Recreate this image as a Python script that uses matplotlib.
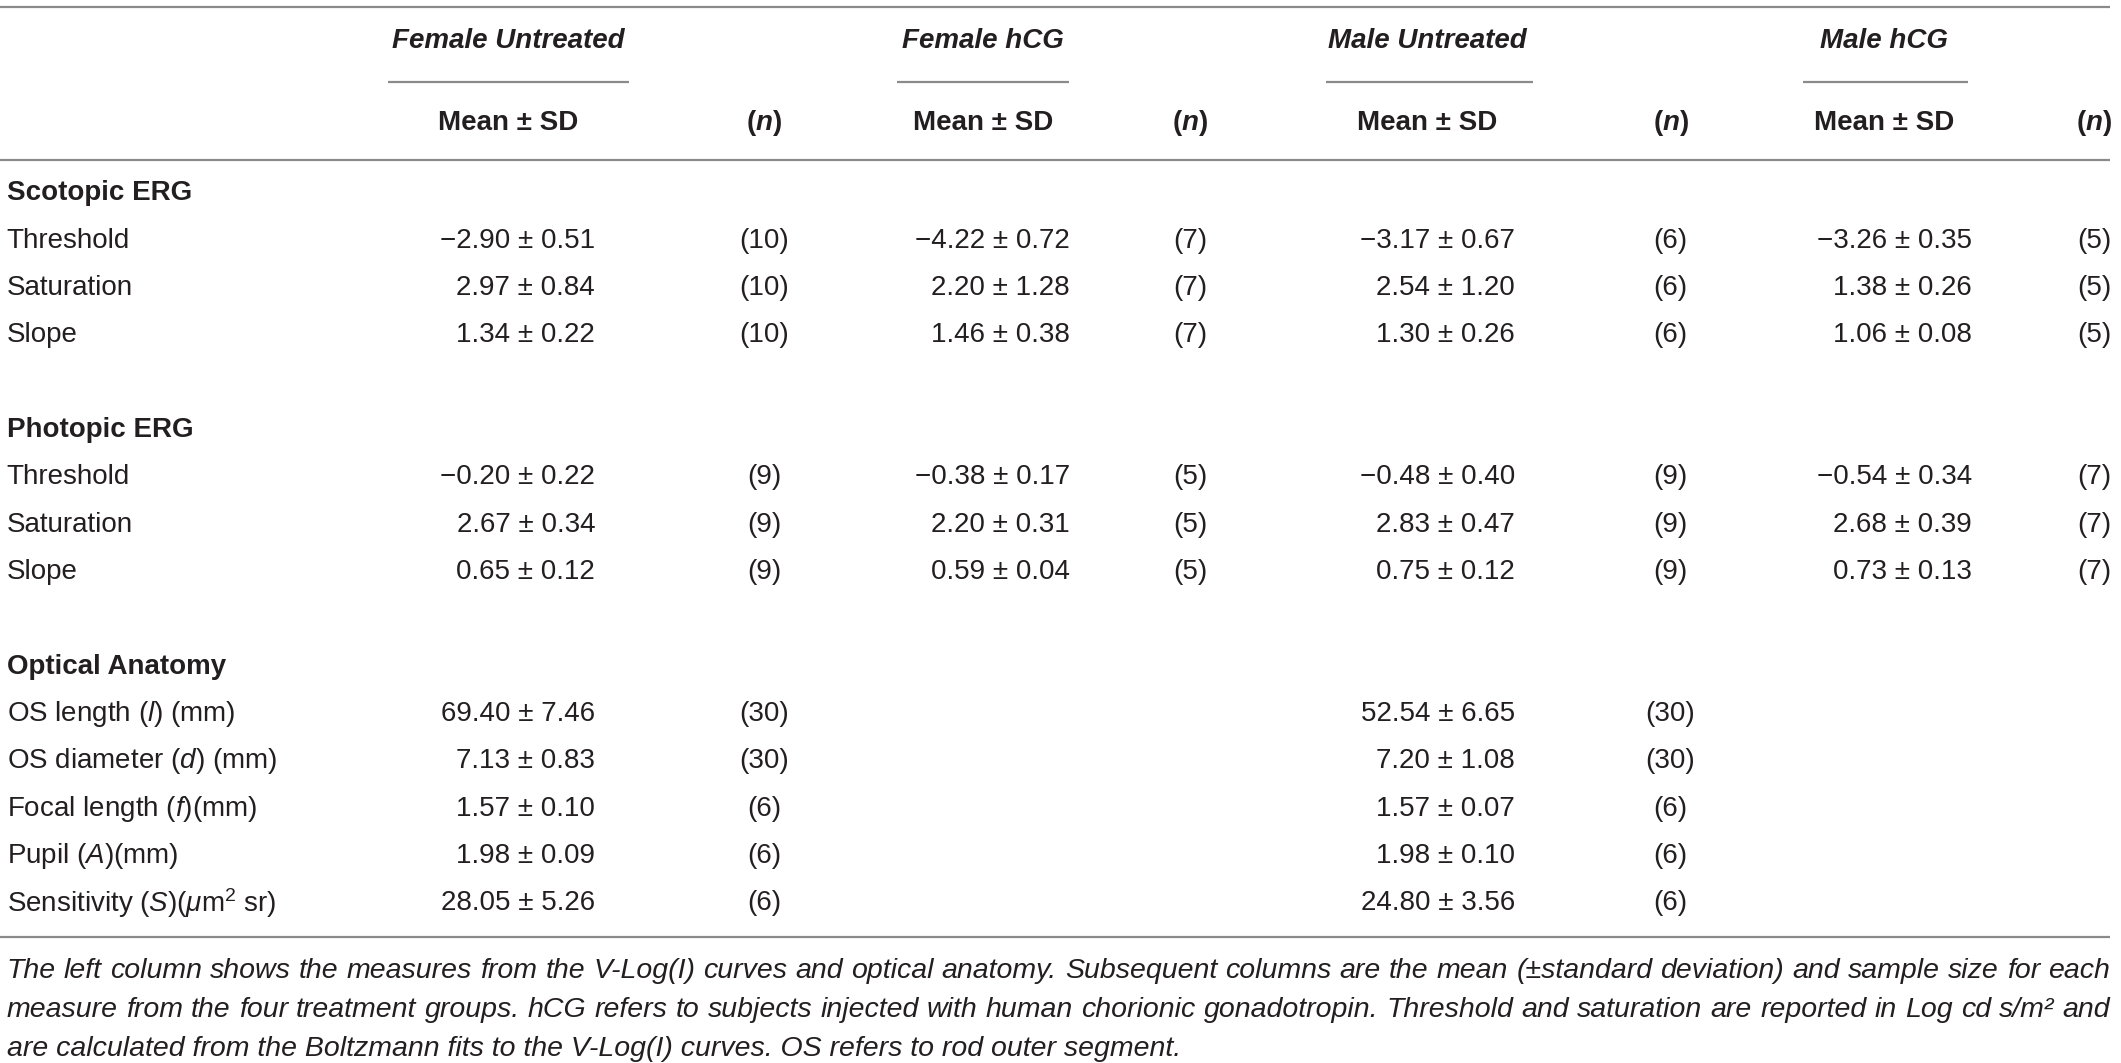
"""
Table of ERG and optical anatomy measures for the four treatment groups,
drawn as plain text on an empty axes.
"""
import matplotlib
matplotlib.use("Agg")
import matplotlib.pyplot as plt

plt.rcParams['font.family'] = ['Liberation Sans', 'DejaVu Sans']
plt.rcParams['mathtext.fontset'] = 'custom'
plt.rcParams['mathtext.rm'] = 'Liberation Sans'
plt.rcParams['mathtext.it'] = 'Liberation Sans:italic'
plt.rcParams['mathtext.bf'] = 'Liberation Sans:bold'
plt.rcParams['mathtext.bfit'] = 'Liberation Sans:bold:italic'

# table content
groups = ["Female Untreated", "Female hCG", "Male Untreated", "Male hCG"]
sections = ["Scotopic ERG", "Photopic ERG", "Optical Anatomy"]
erg_rows = ["Threshold", "Saturation", "Slope"]
anatomy_rows = [r"OS length ($\it{l}$) (mm)", r"OS diameter ($\it{d}$) (mm)",
                r"Focal length ($\it{f}$)(mm)", r"Pupil ($\it{A}$)(mm)",
                r"Sensitivity ($\it{S}$)($\mu$m$^2$ sr)"]

# values per group: scotopic (3), photopic (3), anatomy (5)
female_untreated_mean = [-2.90, 2.97, 1.34, -0.20, 2.67, 0.65, 69.40, 7.13, 1.57, 1.98, 28.05]
female_untreated_sd = [0.51, 0.84, 0.22, 0.22, 0.34, 0.12, 7.46, 0.83, 0.10, 0.09, 5.26]
female_untreated_n = [10, 10, 10, 9, 9, 9, 30, 30, 6, 6, 6]

female_hcg_mean = [-4.22, 2.20, 1.46, -0.38, 2.20, 0.59]
female_hcg_sd = [0.72, 1.28, 0.38, 0.17, 0.31, 0.04]
female_hcg_n = [7, 7, 7, 5, 5, 5]

male_untreated_mean = [-3.17, 2.54, 1.30, -0.48, 2.83, 0.75, 52.54, 7.20, 1.57, 1.98, 24.80]
male_untreated_sd = [0.67, 1.20, 0.26, 0.40, 0.47, 0.12, 6.65, 1.08, 0.07, 0.10, 3.56]
male_untreated_n = [6, 6, 6, 9, 9, 9, 30, 30, 6, 6, 6]

male_hcg_mean = [-3.26, 1.38, 1.06, -0.54, 2.68, 0.73]
male_hcg_sd = [0.35, 0.26, 0.08, 0.34, 0.39, 0.13]
male_hcg_n = [5, 5, 5, 7, 7, 7]

caption_lines = [
    "The left column shows the measures from the V-Log(I) curves and optical anatomy. "
    "Subsequent columns are the mean (\u00b1standard deviation) and sample size for each",
    "measure from the four treatment groups. hCG refers to subjects injected with human "
    "chorionic gonadotropin. Threshold and saturation are reported in Log cd s/m\u00b2 and",
    "are calculated from the Boltzmann fits to the V-Log(I) curves. OS refers to rod outer segment.",
]

# layout (in a 1568 x 786 frame)
W, H = 1568, 786
FS = 20
CAP_FS = 20.5
TXT = '#231f20'
LINE = '#8a8a8a'

group_center = [376, 727, 1055, 1393]
mean_right = [440, 791, 1120, 1458]
n_center = [565, 880, 1235, 1548]
rule_span = [(287, 465), (663, 790), (980, 1133), (1333, 1455)]
section_y = [143, 318, 493]
row_y = [178, 213, 248, 353, 388, 423, 528, 563, 598, 633, 668]

fig = plt.figure(figsize=(21.21, 10.63), dpi=100)
ax = fig.add_axes([0, 0, 1, 1])
ax.set_xlim(0, W)
ax.set_ylim(H, 0)
ax.axis('off')


def fmt(v):
    return f"{v:.2f}".replace('-', '\u2212')


# rules
for y in (5, 118, 693):
    ax.plot([0, 1560], [y, y], color=LINE, lw=1.6, solid_capstyle='butt')
for x0, x1 in rule_span:
    ax.plot([x0, x1], [61, 61], color=LINE, lw=1.6, solid_capstyle='butt')

# headers
for g, cx, nx in zip(groups, group_center, n_center):
    ax.text(cx, 30, g, ha='center', va='center', fontsize=FS, fontweight='bold',
            style='italic', color=TXT)
    ax.text(cx, 91, "Mean \u00b1 SD", ha='center', va='center', fontsize=FS,
            fontweight='bold', color=TXT)
    ax.text(nx, 91, r"($\mathbfit{n}$)", ha='center', va='center', fontsize=FS,
            fontweight='bold', color=TXT)

# row labels
for s, y in zip(sections, section_y):
    ax.text(5, y, s, ha='left', va='center', fontsize=FS, fontweight='bold', color=TXT)
labels = erg_rows + erg_rows + anatomy_rows
for lab, y in zip(labels, row_y):
    ax.text(5, y, lab, ha='left', va='center', fontsize=FS, color=TXT)

# values
data = [
    (female_untreated_mean, female_untreated_sd, female_untreated_n),
    (female_hcg_mean, female_hcg_sd, female_hcg_n),
    (male_untreated_mean, male_untreated_sd, male_untreated_n),
    (male_hcg_mean, male_hcg_sd, male_hcg_n),
]
for (means, sds, ns), xr, xn in zip(data, mean_right, n_center):
    for m, sd, n, y in zip(means, sds, ns, row_y):
        ax.text(xr, y, f"{fmt(m)} \u00b1 {fmt(sd)}", ha='right', va='center',
                fontsize=FS, color=TXT)
        ax.text(xn, y, f"({n})", ha='center', va='center', fontsize=FS, color=TXT)

# caption, justified except the last line
fig.canvas.draw()
renderer = fig.canvas.get_renderer()
px_to_data = W / fig.bbox.width
cap_y = [718, 747, 776]
left, right = 5, 1560
for i, (line, y) in enumerate(zip(caption_lines, cap_y)):
    words = line.split(' ')
    if i == len(caption_lines) - 1:
        ax.text(left, y, line, ha='left', va='center', fontsize=CAP_FS,
                style='italic', color=TXT)
        continue
    arts = [ax.text(0, y, w, ha='left', va='center', fontsize=CAP_FS,
                    style='italic', color=TXT) for w in words]
    widths = [a.get_window_extent(renderer).width * px_to_data for a in arts]
    gap = (right - left - sum(widths)) / (len(words) - 1)
    x = left
    for a, w in zip(arts, widths):
        a.set_x(x)
        x += w + gap

fig.savefig("out.png", dpi=100)
